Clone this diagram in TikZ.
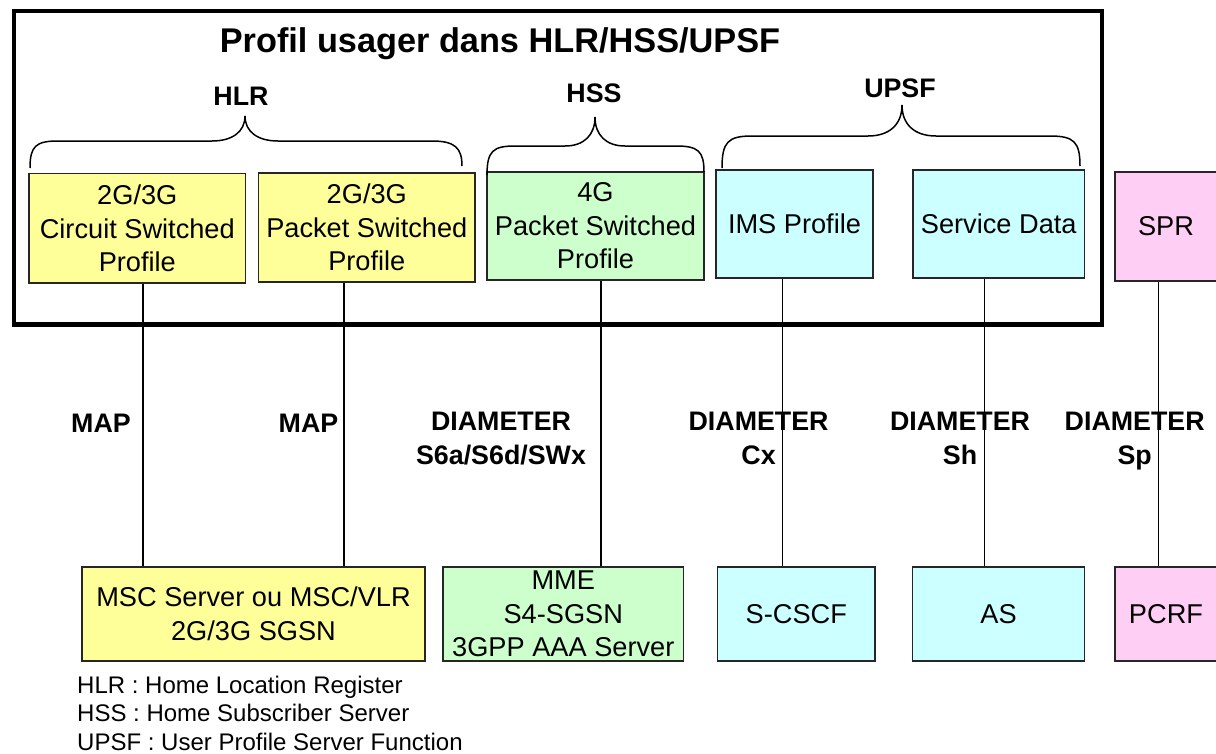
\documentclass[tikz,border=0pt]{standalone}
\usepackage{fontspec}
\setmainfont{Liberation Sans}
\usetikzlibrary{positioning}

\definecolor{jaune}{HTML}{FFFF99}
\definecolor{vert}{HTML}{CCFFCC}
\definecolor{turquoise}{HTML}{CCFFFF}
\definecolor{rose}{HTML}{FFCEF5}

\begin{document}
\begin{tikzpicture}[x=1pt,y=-1pt,font=\fontsize{27.2}{33.5}\selectfont]

	\tikzstyle{box}=[draw=black!85,line width=1.5pt,inner sep=0pt,align=center]
	\tikzstyle{lbl}=[font=\fontsize{26.8}{34}\selectfont\bfseries,align=center,anchor=base,inner sep=0pt]
	\tikzstyle{lien}=[line width=1.5pt]

	\useasboundingbox (0,0) rectangle (1216,753);

	% cadre du profil
	\draw[line width=4.5pt] (14,11) rectangle (1102,324.5);
	\node[font=\fontsize{34.3}{40}\selectfont\bfseries,anchor=base,inner sep=0pt] (titre) at (500,52) {Profil usager dans HLR/HSS/UPSF};

	\node[box,fill=jaune,minimum width=216.7pt,minimum height=109.3pt] (cs) at (137.3,228.3) {2G/3G\\Circuit Switched\\Profile};
	\node[box,fill=jaune,minimum width=216.3pt,minimum height=109pt] (ps) at (366.8,227.5) {2G/3G\\Packet Switched\\Profile};
	\node[box,fill=vert,minimum width=217pt,minimum height=108pt] (eps) at (595.5,226) {4G\\Packet Switched\\Profile};
	\node[box,fill=turquoise,minimum width=157pt,minimum height=108pt] (ims) at (794.5,224) {IMS Profile};
	\node[box,fill=turquoise,minimum width=171.5pt,minimum height=108pt] (sdata) at (998.75,224) {Service Data};
	\node[box,fill=rose,minimum width=102pt,minimum height=109pt] (spr) at (1166,226.5) {SPR};

	% accolades
	\draw[line width=1.5pt] (30,168) .. controls (30,146) and (36,141) .. (58,141) -- (212,141)
		.. controls (232,141) and (245,132) .. (245,116) .. controls (245,132) and (258,141) .. (278,141)
		-- (432,141) .. controls (455,141) and (462,148) .. (462,166);
	\draw[line width=1.5pt] (487,175) .. controls (487,151) and (493,146) .. (515,146) -- (565,146)
		.. controls (584,146) and (595,135) .. (595,117) .. controls (595,135) and (606,146) .. (625,146)
		-- (676,146) .. controls (698,146) and (704,151) .. (704,172);
	\draw[line width=1.5pt] (722,168) .. controls (722,142) and (728,136) .. (752,136) -- (868,136)
		.. controls (890,136) and (902,124) .. (902,105) .. controls (902,124) and (914,136) .. (936,136)
		-- (1050,136) .. controls (1074,136) and (1080,142) .. (1080,166);
	\node[lbl] (hlr) at (241,105) {HLR};
	\node[lbl] (hss) at (594,102) {HSS};
	\node[lbl] (upsf) at (900,97) {UPSF};

	% equipements
	\node[box,fill=jaune,minimum width=343pt,minimum height=94pt] (msc) at (253.5,614) {MSC Server ou MSC/VLR\\2G/3G SGSN};
	\node[box,fill=vert,minimum width=240.5pt,minimum height=94pt] (mme) at (563.3,614) {MME\\S4-SGSN\\3GPP AAA Server};
	\node[box,fill=turquoise,minimum width=157.4pt,minimum height=94pt] (scscf) at (796.3,614) {S-CSCF};
	\node[box,fill=turquoise,minimum width=172pt,minimum height=94pt] (as) at (998.5,614) {AS};
	\node[box,fill=rose,minimum width=102pt,minimum height=94pt] (pcrf) at (1166,614) {PCRF};

	\draw[lien] (cs.south -| 143,0) -- (msc.north -| 143,0);
	\draw[lien] (ps.south -| 344,0) -- (msc.north -| 344,0);
	\draw[lien] (eps.south -| 601,0) -- (mme.north -| 601,0);
	\draw[lien] (ims.south -| 782.6,0) -- (scscf.north -| 782.6,0);
	\draw[lien] (sdata.south -| 984.5,0) -- (as.north -| 984.5,0);
	\draw[lien] (spr.south -| 1158.6,0) -- (pcrf.north -| 1158.6,0);

	\node[lbl] (map1) at (101,432) {MAP};
	\node[lbl] (map2) at (308.5,432) {MAP};
	\node[lbl] (diam1) at (501,464) {DIAMETER\\S6a/S6d/SWx};
	\node[lbl] (diam2) at (758.6,464) {DIAMETER\\Cx};
	\node[lbl] (diam3) at (960,464) {DIAMETER\\Sh};
	\node[lbl] (diam4) at (1134.7,464) {DIAMETER\\Sp};

	% legende
	\node[font=\fontsize{24}{28.3}\selectfont,align=left,anchor=base west,inner sep=0pt] (legende) at (77,750)
		{HLR : Home Location Register\\HSS : Home Subscriber Server\\UPSF : User Profile Server Function};
\end{tikzpicture}
\end{document}
